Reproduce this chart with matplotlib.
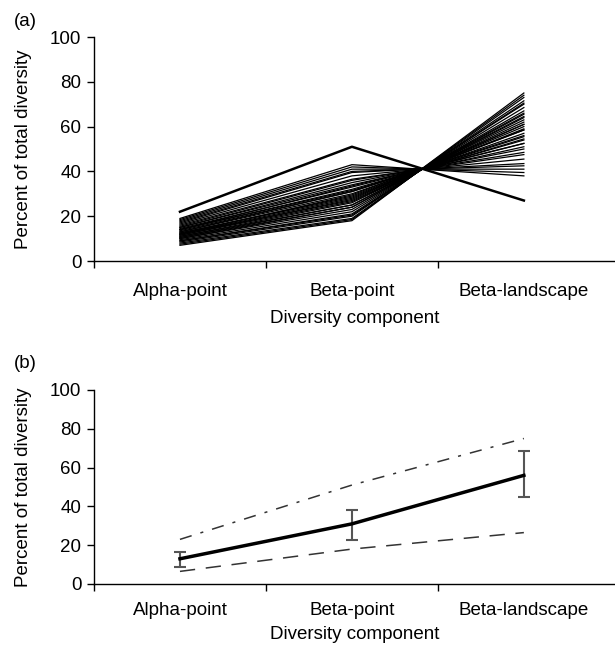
import numpy as np
import matplotlib.pyplot as plt

plt.rcParams['font.family'] = ['Liberation Sans', 'DejaVu Sans']

# categories
components = ['Alpha-point', 'Beta-point', 'Beta-landscape']

# (a) one line per study: percent of total diversity in each component
alpha = [22.0, 19.0, 18.5, 18.0, 17.5, 17.0, 16.0, 15.5, 15.0, 15.0, 14.5, 14.0, 14.0,
         13.5, 13.0, 13.0, 12.5, 12.5, 12.0, 12.0, 11.5, 11.5, 11.0, 11.0, 10.5, 10.5,
         10.0, 10.0, 9.5, 9.0, 9.0, 8.5, 8.0, 7.5, 7.0, 16.5, 14.0, 12.0]
beta_point = [51.0, 43.0, 42.0, 41.0, 40.0, 39.5, 36.5, 36.0, 34.0, 35.0, 33.0, 32.0, 33.5,
              31.0, 30.0, 31.0, 29.0, 28.5, 28.0, 27.0, 26.5, 27.5, 25.0, 26.0, 24.0, 25.0,
              23.0, 24.0, 22.0, 21.0, 20.5, 20.0, 19.0, 18.5, 18.0, 38.0, 31.5, 29.5]
beta_land = [27.0, 38.0, 39.5, 41.0, 42.5, 43.5, 47.5, 48.5, 51.0, 50.0, 52.5, 54.0, 52.5,
             55.5, 57.0, 56.0, 58.5, 59.0, 60.0, 61.0, 62.0, 61.0, 64.0, 63.0, 65.5, 64.5,
             67.0, 66.0, 68.5, 70.0, 70.5, 71.5, 73.0, 74.0, 75.0, 45.5, 54.5, 58.5]

# (b) summary
mean_vals = [13.0, 31.0, 56.0]
err_low = [9.0, 22.5, 45.0]
err_high = [16.5, 38.0, 68.5]
max_vals = [23.0, 51.0, 75.0]
min_vals = [6.5, 18.0, 26.5]

xpos = np.array([0.5, 1.5, 2.5])
fs = 13.5

fig = plt.figure(figsize=(6.15, 6.55), dpi=100)
ax1 = fig.add_axes([94 / 615, 1 - 261 / 655, 521 / 615, 224 / 655])
ax2 = fig.add_axes([94 / 615, 1 - 584 / 655, 521 / 615, 194 / 655])


def style_axis(ax, tpad, lpad):
    ax.set_xlim(0, 3.03)
    ax.set_ylim(0, 100)
    ax.set_yticks(range(0, 101, 20))
    ax.set_xticks([0, 1, 2])
    ax.set_xticklabels([])
    ax.set_xticks(xpos, minor=True)
    ax.set_xticklabels(components, minor=True)
    ax.tick_params(axis='x', which='major', length=5, direction='out', width=1)
    ax.tick_params(axis='x', which='minor', length=0, pad=tpad, labelsize=fs)
    ax.tick_params(axis='y', length=5, direction='out', width=1, labelsize=fs, pad=4)
    for s in ['top', 'right']:
        ax.spines[s].set_visible(False)
    for s in ['left', 'bottom']:
        ax.spines[s].set_linewidth(1)
    ax.set_ylabel('Percent of total diversity', fontsize=fs)
    ax.yaxis.set_label_coords(-0.119, 0.5)
    ax.set_xlabel('Diversity component', fontsize=fs, labelpad=lpad)


for i in range(len(alpha)):
    lw = 1.8 if i == 0 else 0.9
    ax1.plot(xpos, [alpha[i], beta_point[i], beta_land[i]], color='black', lw=lw)
style_axis(ax1, 16, 7)

ax2.plot(xpos, max_vals, color='#333333', lw=1.1, dashes=(8, 6, 2, 6))
ax2.plot(xpos, min_vals, color='#333333', lw=1.1, dashes=(10, 7))
yerr = [np.array(mean_vals) - np.array(err_low), np.array(err_high) - np.array(mean_vals)]
ax2.errorbar(xpos, mean_vals, yerr=yerr, color='black', lw=2.5, ecolor='#555555',
             elinewidth=1.5, capsize=4, capthick=1.5)
style_axis(ax2, 13, 5)

fig.text(14 / 615, 1 - 21 / 655, '(a)', fontsize=fs, va='center')
fig.text(14 / 615, 1 - 363 / 655, '(b)', fontsize=fs, va='center')

fig.savefig('out.png', dpi=100)
